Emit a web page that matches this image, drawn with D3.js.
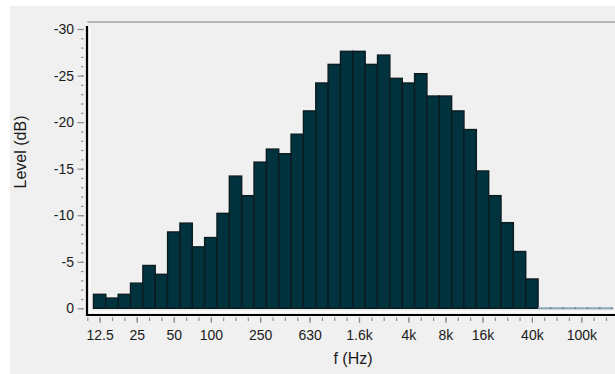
<!DOCTYPE html>
<html>
<head>
<meta charset="utf-8">
<script src="https://cdn.jsdelivr.net/npm/d3@7/dist/d3.min.js"></script>
<style>
  html, body { margin: 0; padding: 0; background: #ffffff; }
  svg { display: block; }
  text { font-family: Arial, "Liberation Sans", sans-serif; fill: #1a1a1a; }
</style>
</head>
<body>
<svg id="chart" width="615" height="374"></svg>
<script>
// One-third-octave bands, 12.5 Hz .. 160 kHz (nominal names)
const bands = ["12.5","16","20","25","31.5","40","50","63","80","100","125","160",
  "200","250","315","400","500","630","800","1k","1.25k","1.6k","2k","2.5k",
  "3.15k","4k","5k","6.3k","8k","10k","12.5k","16k","20k","25k","31.5k","40k",
  "50k","63k","80k","100k","125k","160k"];

// Band level in dB
const levels = [-1.5, -1.1, -1.5, -2.7, -4.6, -3.65, -8.2, -9.15, -6.6, -7.6, -10.2, -14.2,
  -12.1, -15.7, -17.1, -16.6, -18.7, -21.2, -24.2, -26.2, -27.6, -27.6, -26.2, -27.2,
  -24.7, -24.2, -25.2, -22.8, -22.8, -21.2, -19.2, -14.75, -12.1, -9.2, -6.1, -3.15,
  0, 0, 0, 0, 0, 0];

// Labelled frequency ticks
const freqTickLabels = ["12.5","25","50","100","250","630","1.6k","4k","8k","16k","40k","100k"];

// Level axis ticks
const levelTicks = [0, -5, -10, -15, -20, -25, -30];

// Exact band centre: 10^(n/10), 12.5 Hz is band n = 11
const firstBand = 11;
const centre = i => Math.pow(10, (firstBand + i) / 10);
const halfBand = Math.pow(10, 0.05);

const svg = d3.select("#chart");
const W = 615, H = 374;

// panel background
svg.append("rect").attr("x", 10).attr("y", 6).attr("width", W - 10).attr("height", H - 6)
  .attr("fill", "#f0f0f0");

const plot = { left: 87.3, right: 615, top: 22, bottom: 315 };

const x = d3.scaleLog()
  .domain([10, Math.pow(10, 1 + (plot.right - plot.left) / 123.5)])
  .range([plot.left, plot.right]);

const y = d3.scaleLinear().domain([0, -30]).range([308.3, 29]);

const data = bands.map((b, i) => ({ band: b, f: centre(i), v: levels[i] }));

// frame: grey top edge, white inner highlight, black left/bottom axes
svg.append("line").attr("x1", plot.left).attr("x2", W).attr("y1", 22).attr("y2", 22)
  .attr("stroke", "#a3a3a3").attr("stroke-width", 1.5);
svg.append("line").attr("x1", 89.8).attr("x2", 89.8).attr("y1", 27).attr("y2", 313)
  .attr("stroke", "#ffffff").attr("stroke-width", 1.2);
svg.append("line").attr("x1", 89).attr("x2", W).attr("y1", 312).attr("y2", 312)
  .attr("stroke", "#ffffff").attr("stroke-width", 1.5);

// bars
const nonZero = data.filter(d => d.v !== 0);
const zero = data.filter(d => d.v === 0);

svg.append("g").selectAll("rect").data(nonZero).join("rect")
  .attr("x", d => x(d.f / halfBand))
  .attr("width", d => x(d.f * halfBand) - x(d.f / halfBand))
  .attr("y", d => y(d.v))
  .attr("height", d => y(0) - y(d.v))
  .attr("fill", "#01333f")
  .attr("stroke", "#0b1b20")
  .attr("stroke-width", 1.4);

// bands with no level: flat outline at 0 dB
const zg = svg.append("g");
zg.selectAll("line").data(zero).join("line")
  .attr("x1", d => x(d.f / halfBand)).attr("x2", d => x(d.f * halfBand))
  .attr("y1", y(0)).attr("y2", y(0))
  .attr("stroke", "#86a9b5").attr("stroke-width", 2);
zg.selectAll("circle").data(zero).join("circle")
  .attr("cx", d => x(d.f * halfBand)).attr("cy", y(0)).attr("r", 1)
  .attr("fill", "#5d8593");

svg.append("line").attr("x1", 87).attr("x2", 87).attr("y1", 26).attr("y2", 316)
  .attr("stroke", "#000").attr("stroke-width", 2.2);
svg.append("line").attr("x1", 86).attr("x2", W).attr("y1", 315).attr("y2", 315)
  .attr("stroke", "#000").attr("stroke-width", 2.2);

// level axis: minor every 1 dB, major every 5 dB
const yMinor = d3.range(0, -31, -1);
const yAxisMinor = d3.axisLeft(y).tickValues(yMinor).tickSize(2.5).tickFormat("");
const gyMinor = svg.append("g").attr("transform", "translate(83.5,0)").call(yAxisMinor);
const yAxis = d3.axisLeft(y).tickValues(levelTicks).tickSize(6).tickPadding(3.5)
  .tickFormat(d => d === 0 ? "0" : d3.format("d")(d).replace("−", "-"));
const gy = svg.append("g").attr("transform", "translate(83.5,0)").call(yAxis);
[gyMinor, gy].forEach(g => {
  g.select(".domain").remove();
  g.selectAll(".tick line").attr("stroke", "#8e8e8e").attr("stroke-width", 1.2);
});
gy.selectAll(".tick text").attr("font-size", 14).style("font-family", "Arial, 'Liberation Sans', sans-serif")
  .attr("fill", "#1a1a1a");

// frequency axis: minor tick on every band, labelled on selected bands
const allCentres = [centre(-1)].concat(data.map(d => d.f));
const xAxisMinor = d3.axisBottom(x).tickValues(allCentres).tickSize(3.5).tickFormat("");
const gxMinor = svg.append("g").attr("transform", "translate(0,317.5)").call(xAxisMinor);
const labelFreqs = freqTickLabels.map(l => centre(bands.indexOf(l)));
const xAxis = d3.axisBottom(x).tickValues(labelFreqs).tickSize(5.5).tickPadding(7)
  .tickFormat((d, i) => freqTickLabels[i]);
const gx = svg.append("g").attr("transform", "translate(0,317.5)").call(xAxis);
[gxMinor, gx].forEach(g => {
  g.select(".domain").remove();
  g.selectAll(".tick line").attr("stroke", "#8e8e8e").attr("stroke-width", 1.2);
});
gx.selectAll(".tick text").attr("font-size", 14).style("font-family", "Arial, 'Liberation Sans', sans-serif")
  .attr("fill", "#1a1a1a");

// axis titles
svg.append("text").attr("x", 353).attr("y", 364).attr("text-anchor", "middle")
  .attr("font-size", 16).text("f (Hz)");
svg.append("text").attr("transform", "translate(26,152) rotate(-90)")
  .attr("text-anchor", "middle").attr("font-size", 16).text("Level (dB)");
</script>
</body>
</html>
